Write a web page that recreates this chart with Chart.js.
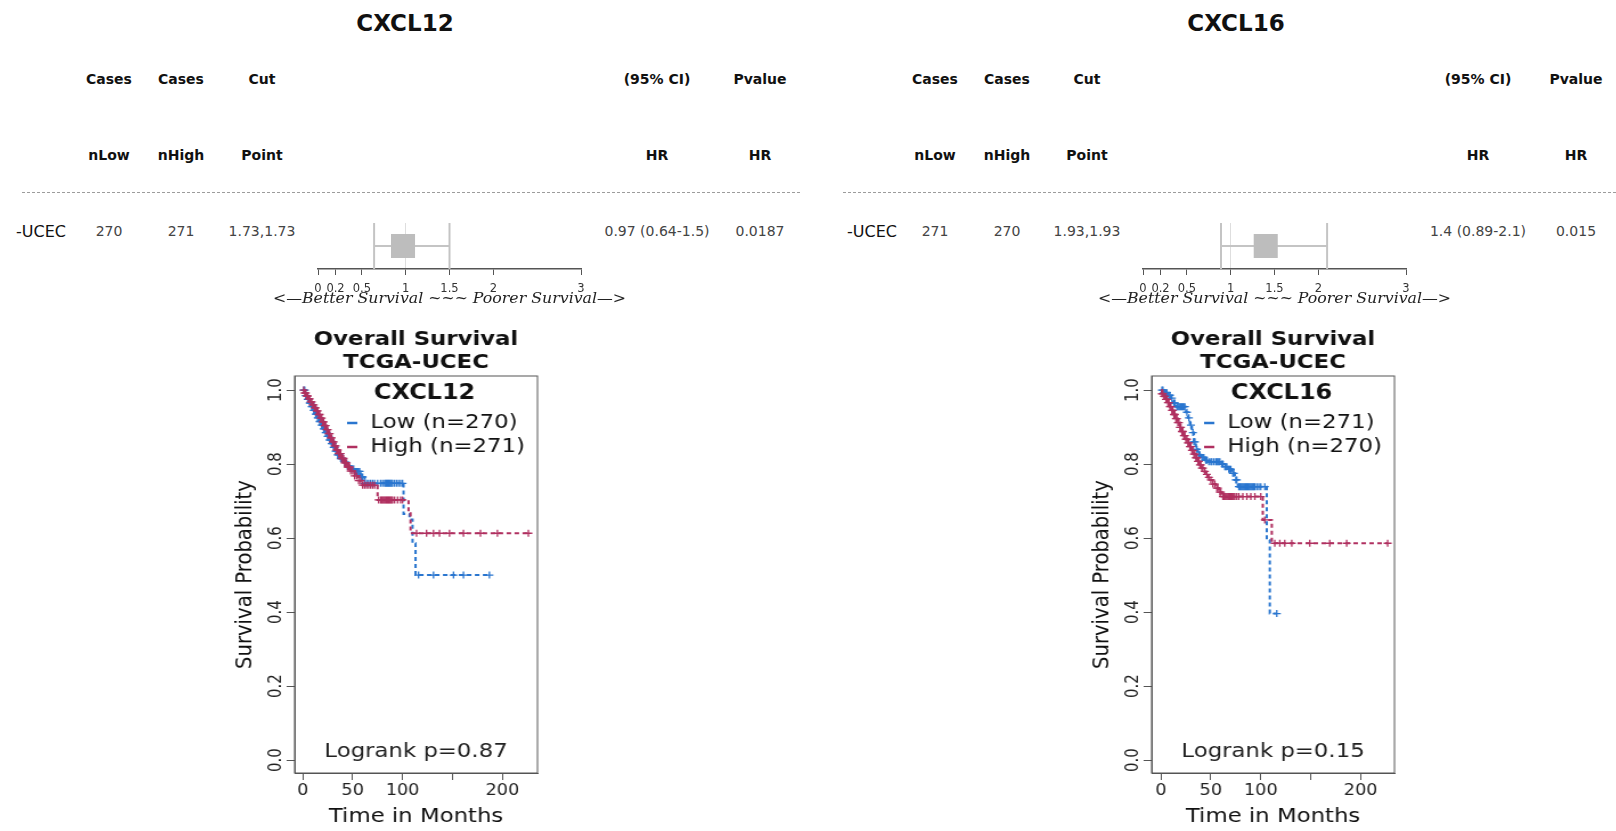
<!DOCTYPE html>
<html>
<head>
<meta charset="utf-8">
<script src="https://cdn.jsdelivr.net/npm/chart.js@4.4.1/dist/chart.umd.min.js"></script>
<style>
  html, body { margin: 0; padding: 0; background: #fff; }
  body { width: 1616px; height: 831px; position: relative; overflow: hidden; font-family: "DejaVu Sans", sans-serif; }
  .c { position: absolute; transform: translate(-50%, -50%); white-space: nowrap; }
  .hd { font-weight: bold; font-size: 14px; color: #111; }
  .val { font-size: 14px; color: #444; }
  .gene { font-weight: bold; font-size: 23px; color: #111; }
  .cohort { position: absolute; transform: translateY(-50%); font-size: 16px; color: #111; white-space: nowrap; }
  .dash { position: absolute; height: 0; border-top: 1.5px dashed #9c9c9c; }
  .km { position: absolute; transform-origin: 0 0; transform: scaleX(1.14); }
  .fp { position: absolute; }
</style>
</head>
<body>
<script>
// table values
const genes = ['CXCL12', 'CXCL16'];
const nLow = [270, 271];
const nHigh = [271, 270];
const cutPoint = ['1.73,1.73', '1.93,1.93'];
const hrVal = [0.97, 1.4];
const hrLow = [0.64, 0.89];
const hrHigh = [1.5, 2.1];
const hrText = ['0.97 (0.64-1.5)', '1.4 (0.89-2.1)'];
const pvalHR = ['0.0187', '0.015'];
const logrankP = ['0.87', '0.15'];
const cohort = '-UCEC';
const forestTicks = [0, 0.2, 0.5, 1, 1.5, 2, 3];
const kmXTicks = [0, 50, 100, 150, 200];
const kmYTicks = [0, 0.2, 0.4, 0.6, 0.8, 1];

// CXCL12 Kaplan-Meier
const lowTime12 = [3, 5, 7, 9, 11, 13, 15, 17, 19, 21, 23, 25, 27, 29, 31, 33, 35, 38, 41, 44, 47, 52, 58, 62, 101, 107, 110, 113];
const lowSurv12 = [0.985, 0.975, 0.965, 0.955, 0.945, 0.935, 0.925, 0.915, 0.905, 0.895, 0.885, 0.875, 0.865, 0.855, 0.845, 0.835, 0.825, 0.815, 0.805, 0.795, 0.787, 0.78, 0.765, 0.748, 0.665, 0.65, 0.586, 0.5];
const lowCens12 = [1, 2, 3, 4, 5, 6, 7, 8, 9, 10, 11, 12, 13, 14, 15, 16, 17, 18, 19, 20, 21, 22, 23, 24, 25, 26, 27, 28, 29, 30, 31, 32, 33, 34, 35, 36, 37, 38, 39, 40, 42, 43, 45, 46, 48, 49, 51, 52, 53, 54, 55, 56, 57, 59, 60, 62, 64, 66, 68, 70, 72, 75, 78, 80, 82, 83, 84, 85, 86, 87, 88, 89, 90, 92, 94, 96, 98, 100, 116, 131, 151, 161, 187];
const highTime12 = [2, 4, 6, 8, 10, 12, 14, 16, 18, 20, 22, 24, 26, 28, 30, 32, 34, 36, 39, 42, 45, 48, 52, 56, 60, 75, 106, 108];
const highSurv12 = [0.992, 0.984, 0.976, 0.968, 0.96, 0.952, 0.944, 0.934, 0.924, 0.914, 0.904, 0.893, 0.882, 0.871, 0.86, 0.849, 0.838, 0.828, 0.815, 0.803, 0.792, 0.781, 0.768, 0.755, 0.743, 0.703, 0.667, 0.613];
const highCens12 = [1, 2, 3, 4, 5, 6, 7, 8, 9, 10, 11, 12, 13, 14, 15, 16, 17, 18, 19, 20, 21, 22, 23, 24, 25, 26, 27, 28, 29, 30, 31, 32, 33, 34, 35, 36, 37, 38, 39, 40, 41, 42, 43, 44, 45, 46, 47, 48, 50, 52, 54, 56, 58, 60, 62, 64, 66, 68, 70, 72, 76, 78, 79, 80, 81, 82, 83, 84, 85, 86, 87, 88, 89, 90, 92, 95, 98, 100, 114, 124, 131, 137, 147, 161, 178, 195, 226];

// CXCL16 Kaplan-Meier
const lowTime16 = [3, 7, 10, 12, 15, 25, 27, 29, 31, 33, 35, 37, 40, 44, 47, 60, 63, 67, 71, 74, 77, 106, 109];
const lowSurv16 = [0.993, 0.986, 0.978, 0.965, 0.955, 0.94, 0.925, 0.905, 0.885, 0.86, 0.84, 0.825, 0.818, 0.81, 0.806, 0.8, 0.793, 0.786, 0.775, 0.757, 0.739, 0.595, 0.396];
const lowCens16 = [1, 2, 3, 4, 5, 6, 8, 9, 11, 13, 14, 16, 17, 18, 19, 20, 21, 22, 23, 24, 26, 28, 30, 32, 33, 34, 36, 38, 39, 41, 42, 43, 45, 46, 48, 50, 51, 53, 55, 56, 57, 58, 59, 61, 62, 64, 65, 66, 68, 69, 70, 72, 73, 75, 76, 78, 79, 80, 81, 82, 83, 84, 85, 86, 87, 88, 89, 90, 91, 92, 93, 94, 96, 98, 100, 104, 116];
const highTime16 = [1, 3, 5, 7, 9, 11, 13, 15, 17, 19, 21, 23, 25, 27, 29, 31, 33, 35, 37, 39, 41, 43, 45, 47, 49, 52, 55, 58, 61, 102, 111];
const highSurv16 = [0.99, 0.983, 0.975, 0.966, 0.955, 0.945, 0.934, 0.923, 0.912, 0.899, 0.888, 0.877, 0.867, 0.857, 0.847, 0.837, 0.827, 0.817, 0.807, 0.798, 0.789, 0.78, 0.772, 0.764, 0.757, 0.746, 0.735, 0.724, 0.712, 0.649, 0.586];
const highCens16 = [1, 2, 3, 4, 5, 6, 7, 8, 9, 10, 11, 12, 13, 14, 15, 16, 17, 18, 19, 20, 21, 22, 23, 24, 25, 26, 27, 28, 29, 30, 31, 32, 33, 34, 35, 36, 37, 38, 39, 40, 41, 42, 44, 46, 48, 50, 52, 54, 56, 57, 59, 60, 62, 63, 64, 65, 66, 67, 68, 69, 70, 71, 72, 73, 74, 76, 78, 82, 86, 90, 94, 100, 104, 114, 119, 124, 131, 149, 169, 186, 227];

const kmLow = [[lowTime12, lowSurv12, lowCens12], [lowTime16, lowSurv16, lowCens16]];
const kmHigh = [[highTime12, highSurv12, highCens12], [highTime16, highSurv16, highCens16]];

const BLUE = '#2a76cf';
const PINK = '#b03060';
const FONT = '"DejaVu Sans", sans-serif';

// page layout for the two panels
const titleX = [405, 1236];
const colX = [[109, 181, 262, 657, 760], [935, 1007, 1087, 1478, 1576]];
const cohortX = [16, 847];
const dashX = [[22, 800], [843, 1616]];
const forestLeft = [250, 1075];
const kmLeft = [200, 1057];
const kmRange = [[-8.1, 235.1], [-9.3, 233.8]];

function addText(cls, text, x, y) {
  const d = document.createElement('div');
  d.className = cls;
  d.textContent = text;
  d.style.left = x + 'px';
  d.style.top = y + 'px';
  document.body.appendChild(d);
}

function stepPoints(T, S, cens) {
  const pts = [{x: 0, y: 1}];
  T.forEach((t, k) => pts.push({x: t, y: S[k]}));
  const end = Math.max(T[T.length - 1], ...cens);
  pts.push({x: end, y: S[S.length - 1]});
  return pts;
}

function survAt(T, S, t) {
  let s = 1;
  T.forEach((tt, k) => { if (tt <= t) s = S[k]; });
  return s;
}

const kmDeco = {
  id: 'kmDeco',
  afterDraw(chart, args, o) {
    const {ctx, chartArea: a, scales} = chart;
    const cx = (a.left + a.right) / 2;
    ctx.save();
    ctx.strokeStyle = '#555';
    ctx.lineWidth = 1;
    ctx.strokeRect(a.left, a.top, a.right - a.left, a.bottom - a.top);
    ctx.fillStyle = '#111';
    ctx.textAlign = 'center';
    ctx.textBaseline = 'middle';
    ctx.font = 'bold 20px ' + FONT;
    ctx.fillText('Overall Survival', cx, 30);
    ctx.fillText('TCGA-UCEC', cx, 53);
    ctx.font = 'bold 21px ' + FONT;
    ctx.fillText(o.gene, a.left + 114, 84);
    // legend
    ctx.lineWidth = 2.5;
    [['Low (n=' + o.nLow + ')', BLUE, 113], ['High (n=' + o.nHigh + ')', PINK, 137]].forEach(([txt, col, y]) => {
      ctx.strokeStyle = col;
      ctx.beginPath();
      ctx.moveTo(a.left + 46, y);
      ctx.lineTo(a.left + 55, y);
      ctx.stroke();
      ctx.textAlign = 'left';
      ctx.font = '20px ' + FONT;
      ctx.fillStyle = '#111';
      ctx.fillText(txt, a.left + 66.5, y);
    });
    ctx.textAlign = 'center';
    ctx.fillStyle = '#222';
    ctx.font = '20px ' + FONT;
    ctx.fillText('Logrank p=' + o.p, cx, 442);
    // rotated y tick labels, R style
    ctx.font = '15px ' + FONT;
    ctx.fillStyle = '#222';
    kmYTicks.forEach(v => {
      const y = scales.y.getPixelForValue(v);
      ctx.save();
      ctx.translate(a.left - 15.7, y);
      ctx.rotate(-Math.PI / 2);
      ctx.fillText(v.toFixed(1), 0, 0);
      ctx.restore();
    });
    ctx.restore();
  }
};

// axis caption under the forest plot, stretched wide like the original
const forestCaption = {
  id: 'forestCaption',
  afterDraw(chart) {
    const {ctx, chartArea: a} = chart;
    const txt = '<\u2014Better Survival ~~~ Poorer Survival\u2014>';
    ctx.save();
    ctx.font = 'italic 14px "DejaVu Serif", serif';
    const k = 353 / ctx.measureText(txt).width;
    ctx.translate((a.left + a.right) / 2, 109.5);
    ctx.scale(k, 1);
    ctx.textAlign = 'center';
    ctx.textBaseline = 'middle';
    ctx.fillStyle = '#222';
    ctx.fillText(txt, 0, 0);
    ctx.restore();
  }
};

function makeKM(i) {
  const cv = document.createElement('canvas');
  cv.className = 'km';
  cv.width = 316;
  cv.height = 521;
  cv.style.width = '316px';
  cv.style.height = '521px';
  cv.style.left = kmLeft[i] + 'px';
  cv.style.top = '310px';
  document.body.appendChild(cv);

  const [lt, ls, lc] = kmLow[i];
  const [ht, hs, hc] = kmHigh[i];
  const lineDs = (pts, col) => ({
    type: 'line', data: pts, borderColor: col, borderWidth: 2, borderDash: [4, 3],
    stepped: true, pointRadius: 0, fill: false
  });
  const censDs = (T, S, C, col) => ({
    type: 'scatter', data: C.map(t => ({x: t, y: survAt(T, S, t)})),
    pointStyle: 'cross', pointRadius: 3.5, borderColor: col, borderWidth: 1.3, showLine: false
  });

  // first dataset is painted last, so "High" sits on top as in the original
  new Chart(cv, {
    type: 'line',
    data: {
      datasets: [
        censDs(ht, hs, hc, PINK),
        lineDs(stepPoints(ht, hs, hc), PINK),
        censDs(lt, ls, lc, BLUE),
        lineDs(stepPoints(lt, ls, lc), BLUE)
      ]
    },
    options: {
      responsive: false,
      animation: false,
      devicePixelRatio: 1,
      layout: {padding: {left: 0, top: 66, right: 20, bottom: 0}},
      plugins: {
        legend: {display: false},
        tooltip: {enabled: false},
        kmDeco: {gene: genes[i], nLow: nLow[i], nHigh: nHigh[i], p: logrankP[i]}
      },
      scales: {
        x: {
          type: 'linear',
          min: kmRange[i][0],
          max: kmRange[i][1],
          afterBuildTicks: s => { s.ticks = kmXTicks.map(v => ({value: v})); },
          afterFit: s => { s.height = 58; },
          ticks: {
            autoSkip: false, maxRotation: 0, padding: 2, color: '#222',
            font: {family: FONT, size: 15.5},
            callback: v => (v === 150 ? '' : String(v))
          },
          grid: {drawOnChartArea: false, tickLength: 7, tickColor: '#555', color: '#555'},
          border: {color: '#555', width: 1},
          title: {
            display: true, text: 'Time in Months', color: '#111',
            font: {family: FONT, size: 20, lineHeight: 1.2}, padding: {top: 0, bottom: 2}
          }
        },
        y: {
          type: 'linear',
          min: -0.035,
          max: 1.038,
          afterBuildTicks: s => { s.ticks = kmYTicks.map(v => ({value: v})); },
          afterFit: s => { s.width = 83; },
          ticks: {callback: () => '', font: {family: FONT, size: 15}},
          grid: {drawOnChartArea: false, tickLength: 7, tickColor: '#555', color: '#555'},
          border: {color: '#555', width: 1},
          title: {
            display: true, text: 'Survival Probability', color: '#111',
            font: {family: FONT, size: 19.6, lineHeight: 1.2}, padding: {top: 28.6, bottom: 0}
          }
        }
      }
    },
    plugins: [kmDeco]
  });
}

function makeForest(i) {
  const cv = document.createElement('canvas');
  cv.className = 'fp';
  cv.width = 400;
  cv.height = 120;
  cv.style.width = '400px';
  cv.style.height = '120px';
  cv.style.left = forestLeft[i] + 'px';
  cv.style.top = '190px';
  document.body.appendChild(cv);

  const grey = '#c4c4c4';
  new Chart(cv, {
    type: 'scatter',
    data: {
      datasets: [
        {data: [{x: hrVal[i], y: 0}], pointStyle: 'rect', pointRadius: 17,
         backgroundColor: '#bdbdbd', borderColor: '#bdbdbd', borderWidth: 0},
        {data: [{x: hrLow[i], y: 0}, {x: hrHigh[i], y: 0}], pointStyle: 'line', rotation: 90,
         pointRadius: 31, borderColor: grey, borderWidth: 2},
        {type: 'line', data: [{x: hrLow[i], y: 0}, {x: hrHigh[i], y: 0}], borderColor: grey,
         borderWidth: 2, pointRadius: 0}
      ]
    },
    options: {
      responsive: false,
      animation: false,
      devicePixelRatio: 1,
      layout: {padding: {left: 68, top: 2, right: 69, bottom: 0}},
      plugins: {legend: {display: false}, tooltip: {enabled: false}},
      scales: {
        y: {display: false, min: -1, max: 1},
        x: {
          type: 'linear',
          min: 0,
          max: 3,
          afterBuildTicks: s => { s.ticks = forestTicks.map(v => ({value: v})); },
          afterFit: s => { s.height = 41; },
          ticks: {autoSkip: false, maxRotation: 0, padding: 7, color: '#333',
                  font: {family: FONT, size: 11.5}, callback: v => String(v)},
          grid: {
            tickLength: 6, tickColor: '#555', lineWidth: 1,
            color: c => (c.tick && c.tick.value === 1 ? '#dedede' : 'rgba(0,0,0,0)')
          },
          border: {color: '#555', width: 1.5}
        }
      }
    },
    plugins: [forestCaption]
  });
}

genes.forEach((g, i) => {
  addText('c gene', g, titleX[i], 22.5);
  const cx = colX[i];
  addText('c hd', 'Cases', cx[0], 79);
  addText('c hd', 'Cases', cx[1], 79);
  addText('c hd', 'Cut', cx[2], 79);
  addText('c hd', '(95% CI)', cx[3], 79);
  addText('c hd', 'Pvalue', cx[4], 79);
  addText('c hd', 'nLow', cx[0], 155);
  addText('c hd', 'nHigh', cx[1], 155);
  addText('c hd', 'Point', cx[2], 155);
  addText('c hd', 'HR', cx[3], 155);
  addText('c hd', 'HR', cx[4], 155);
  addText('cohort', cohort, cohortX[i], 231);
  addText('c val', String(nLow[i]), cx[0], 231);
  addText('c val', String(nHigh[i]), cx[1], 231);
  addText('c val', cutPoint[i], cx[2], 231);
  addText('c val', hrText[i], cx[3], 231);
  addText('c val', pvalHR[i], cx[4], 231);

  const d = document.createElement('div');
  d.className = 'dash';
  d.style.left = dashX[i][0] + 'px';
  d.style.width = (dashX[i][1] - dashX[i][0]) + 'px';
  d.style.top = '192px';
  document.body.appendChild(d);

  makeForest(i);
  makeKM(i);
});
</script>
</body>
</html>
